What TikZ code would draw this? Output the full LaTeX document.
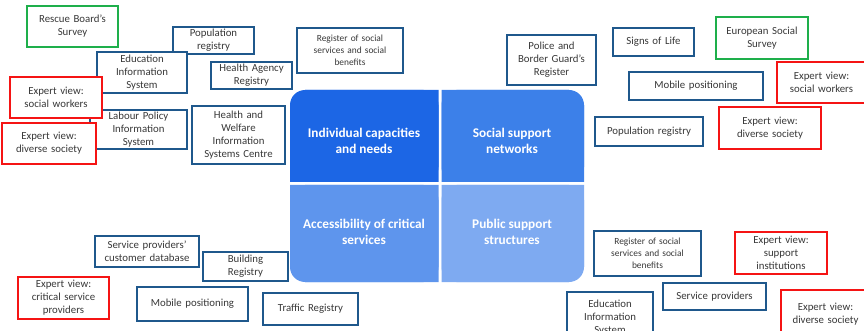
\documentclass[tikz,border=0pt]{standalone}
\usepackage{fontspec}
\setmainfont{Carlito}
\definecolor{bxblue}{RGB}{31,88,140}
\definecolor{bxred}{RGB}{245,20,20}
\definecolor{bxgreen}{RGB}{30,175,75}
\definecolor{qTL}{RGB}{28,102,229}
\definecolor{qTR}{RGB}{60,128,233}
\definecolor{qBL}{RGB}{94,149,237}
\definecolor{qBR}{RGB}{126,170,241}
\tikzset{
  base/.style={draw, fill=white, line width=1.8pt, inner sep=0pt, align=center,
    font=\fontsize{10.8}{13}\selectfont, text=black!78},
  blu/.style={base, draw=bxblue},
  rdb/.style={base, draw=bxred},
  grb/.style={base, draw=bxgreen},
  small/.style={font=\fontsize{9.4}{12}\selectfont},
  quad/.style={text=white, align=center, font=\bfseries\fontsize{13.3}{15.5}\selectfont},
}
% \bx{style}{name}{x1}{y1}{x2}{y2}{text}
\newcommand\bx[7]{%
  \node[#1, minimum width={(#5-#3)*1pt}, minimum height={(#6-#4)*1pt},
        text width={(#5-#3-4)*1pt}] (#2) at ({(#3+#5)/2},{(#4+#6)/2}) {#7};}
\begin{document}
\begin{tikzpicture}[x=1pt,y=-1pt]
\useasboundingbox (0,0) rectangle (864,331);
\clip (0,0) rectangle (864,331);
% central quadrants
\fill[qTL, rounded corners=15pt] (290,90) rectangle (438.5,182);
\fill[qTL] (305,90) rectangle (438.5,182) (290,105) rectangle (438.5,182);
\fill[qTR, rounded corners=15pt] (441.5,90) rectangle (584,182);
\fill[qTR] (441.5,90) rectangle (569,182) (441.5,105) rectangle (584,182);
\fill[qBL, rounded corners=15pt] (290,185) rectangle (438.5,282);
\fill[qBL] (305,185) rectangle (438.5,282) (290,185) rectangle (438.5,267);
\fill[qBR, rounded corners=15pt] (441.5,185) rectangle (584,282);
\fill[qBR] (441.5,185) rectangle (569,282) (441.5,185) rectangle (584,267);
\node[quad] (qa) at (364,141) {Individual capacities\\and needs};
\node[quad] (qb) at (512,141) {Social support\\networks};
\node[quad] (qc) at (364,232) {Accessibility of critical\\services};
\node[quad] (qd) at (512,232) {Public support\\structures};
% top-left
\bx{grb}{rescue}{27}{6}{118}{47}{Rescue Board’s\\Survey}
\bx{blu}{popL}{173}{27}{254}{54}{Population\\registry}
\bx{blu}{eduL}{97}{52}{187}{93}{Education\\Information\\System}
\bx{blu}{health}{211}{62}{292}{89}{Health Agency\\Registry}
\bx{blu}{labour}{90}{110}{187}{149}{Labour Policy\\Information\\System}
\bx{rdb}{expSW}{10}{77}{102}{118}{Expert view:\\social workers}
\bx{rdb}{expDS}{2}{123}{96}{164}{Expert view:\\diverse society}
\bx{blu}{hwisc}{192}{106}{285}{164}{Health and\\Welfare\\Information\\Systems Centre}
% top-middle/right
\bx{blu,small}{regT}{297}{28}{403}{73}{Register of social\\services and social\\benefits}
\bx{blu}{police}{507}{35}{596}{85}{Police and\\Border Guard’s\\Register}
\bx{blu}{signs}{613}{28}{694}{56}{Signs of Life}
\bx{grb}{ess}{716}{17}{808}{59}{European Social\\Survey}
\bx{blu}{mobR}{629}{72}{763}{100}{Mobile positioning}
\bx{rdb}{expSWR}{777}{62}{866}{103}{Expert view:\\social workers}
\bx{blu}{popR}{595}{117}{703}{146}{Population registry}
\bx{rdb}{expDSR}{719}{107}{821}{149}{Expert view:\\diverse society}
% bottom-left
\bx{blu}{spcd}{95}{236}{199}{267}{Service providers’\\customer database}
\bx{blu}{build}{203}{252}{288}{281}{Building\\Registry}
\bx{rdb}{expCSP}{18}{277}{109}{319}{Expert view:\\critical service\\providers}
\bx{blu}{mobB}{137}{287}{248}{321}{Mobile positioning}
\bx{blu}{traffic}{263}{293}{358}{325}{Traffic Registry}
% bottom-right
\bx{blu,small}{regB}{594}{231}{701}{276}{Register of social\\services and social\\benefits}
\bx{rdb}{expSI}{735}{232}{827}{274}{Expert view:\\support\\institutions}
\bx{blu}{eduR}{567}{292}{653}{344}{Education\\Information\\System\\ }
\bx{blu}{servp}{663}{283}{766}{310}{Service providers}
\bx{rdb}{expDSB}{781}{290}{870}{338}{Expert view:\\diverse society}
\end{tikzpicture}
\end{document}
